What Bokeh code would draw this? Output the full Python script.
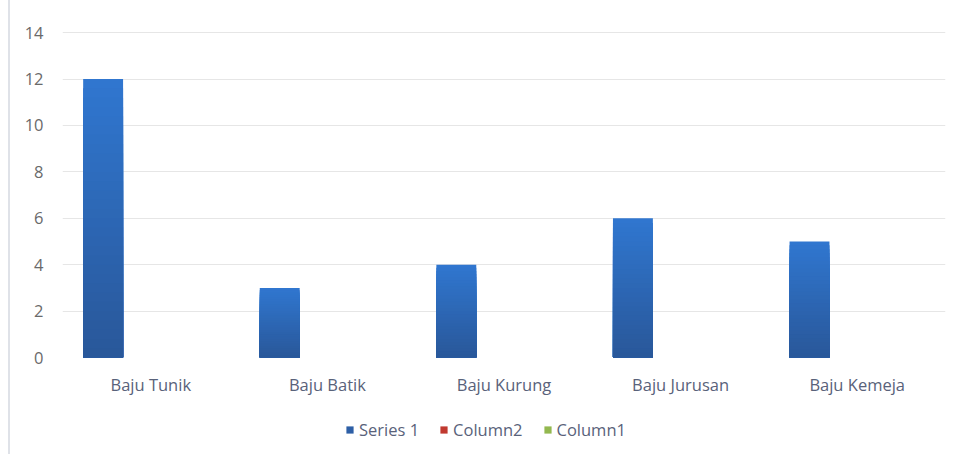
import numpy as np
from bokeh.plotting import figure
from bokeh.layouts import column, row
from bokeh.models import (ColumnDataSource, FactorRange, Range1d, Legend, LegendItem,
                          SingleIntervalTicker, Div)
from bokeh.transform import dodge
from bokeh.embed import file_html
from bokeh.resources import INLINE

categories = ["Baju Tunik", "Baju Batik", "Baju Kurung", "Baju Jurusan", "Baju Kemeja"]
series1 = [12, 3, 4, 6, 5]
column2 = [0, 0, 0, 0, 0]
column1 = [0, 0, 0, 0, 0]
series_names = ["Series 1", "Column2", "Column1"]
series_colors = ["#2d5fa6", "#c0392f", "#93b84f"]

FONT = "Open Sans"
FS = "16.5px"

p = figure(width=952, height=400, x_range=FactorRange(*categories), y_range=Range1d(0, 14.05),
           output_backend="svg", toolbar_location=None,
           min_border_left=52, min_border_right=17, min_border_top=31, min_border_bottom=43)
p.outline_line_color = None
p.background_fill_color = "white"
p.border_fill_color = "white"

# gradient bars (light top -> dark bottom), built from the data
N = 30
top_rgb = np.array([0x30, 0x77, 0xd0])
bot_rgb = np.array([0x29, 0x57, 0x99])
bw = 0.226
off = -0.27
vals = np.array(series1, dtype=float)
for i in range(N - 1, -1, -1):
    f = (i + 0.5) / N
    c = bot_rgb + (top_rgb - bot_rgb) * f
    col = "#%02x%02x%02x" % tuple(int(round(x)) for x in c)
    src = ColumnDataSource(dict(x=categories, t=vals * (i + 1) / N))
    p.vbar(x=dodge("x", off, range=p.x_range), bottom=0, top="t", width=bw, source=src,
           fill_color=col, line_color=None)

for k, vals_k in enumerate([series1, column2, column1]):
    if k == 0:
        continue
    src = ColumnDataSource(dict(x=categories, t=vals_k))
    p.vbar(x=dodge("x", off + k * bw, range=p.x_range), top="t", width=bw, source=src,
           fill_color=series_colors[k], line_color=None)

p.yaxis.ticker = SingleIntervalTicker(interval=2)
p.yaxis.axis_line_color = None
p.yaxis.major_tick_line_color = None
p.yaxis.minor_tick_line_color = None
p.yaxis.major_tick_out = 0
p.yaxis.minor_tick_out = 0
p.yaxis.major_label_text_font = FONT
p.yaxis.major_label_text_font_size = FS
p.yaxis.major_label_text_color = "#6a6a6a"
p.yaxis.major_label_standoff = 19

p.xaxis.axis_line_color = None
p.xaxis.major_tick_line_color = None
p.xaxis.minor_tick_line_color = None
p.xaxis.major_tick_out = 0
p.xaxis.minor_tick_out = 0
p.xaxis.major_label_text_font = FONT
p.xaxis.major_label_text_font_size = FS
p.xaxis.major_label_text_color = "#59627a"
p.xaxis.major_label_standoff = 15

p.xgrid.grid_line_color = None
p.ygrid.grid_line_color = "#e6e6e6"
p.ygrid.grid_line_width = 1

# legend strip
lf = figure(width=952, height=54, x_range=Range1d(0, 1), y_range=Range1d(0, 1),
            output_backend="svg", toolbar_location=None,
            min_border_left=0, min_border_right=0, min_border_top=0, min_border_bottom=0)
lf.outline_line_color = None
lf.axis.visible = False
lf.grid.visible = False
legend_items = []
for k, name in enumerate(series_names):
    rr = lf.quad(left=[-10], right=[-9], bottom=[-10], top=[-9],
                 fill_color=series_colors[k], line_color=None)
    legend_items.append(LegendItem(label=name, renderers=[rr]))
legend = Legend(items=legend_items, orientation="horizontal", location=(283, 13),
                label_text_font=FONT, label_text_font_size=FS, label_text_color="#59627a",
                glyph_width=9, glyph_height=9, spacing=20, label_standoff=5,
                border_line_color=None, background_fill_alpha=0, padding=0, margin=0)
lf.add_layout(legend, "center")

spacer = Div(width=8, height=454, margin=0)
edge = Div(width=2, height=454, margin=0, styles={"background-color": "#dfe2e8"})

layout = row(spacer, edge, column(p, lf, spacing=0), spacing=0)

open("out.html", "w").write(file_html(layout, INLINE))
